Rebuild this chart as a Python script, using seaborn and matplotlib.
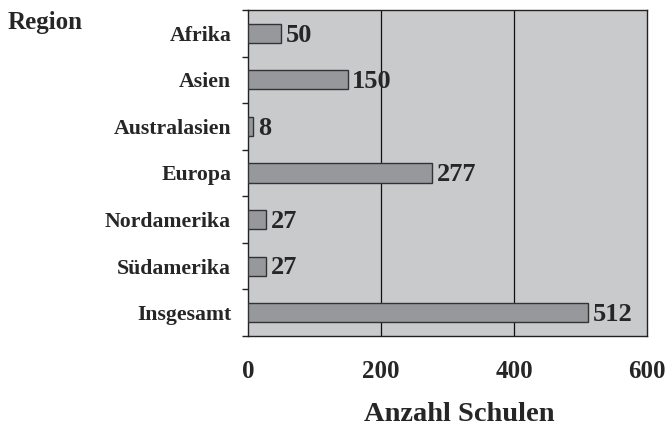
import pandas as pd
import matplotlib
matplotlib.use("Agg")
import matplotlib.pyplot as plt
import seaborn as sns

# Data

regions = ["Afrika", "Asien", "Australasien", "Europa",
           "Nordamerika", "Südamerika", "Insgesamt"]
schulen = [50, 150, 8, 277, 27, 27, 512]

df = pd.DataFrame({"Region": regions, "Schulen": schulen})

sns.set_style("white")
plt.rcParams['font.family'] = ['Liberation Serif', 'DejaVu Serif']
plt.rcParams['font.weight'] = 'bold'

fig = plt.figure(figsize=(6.68, 4.26), dpi=100)
ax = fig.add_axes([0.371, 0.2113, 0.5976, 0.7652])
ax.set_facecolor("#c9cacc")

sns.barplot(data=df, y="Region", x="Schulen", orient="h",
            color="#97989c", edgecolor="#333333", linewidth=1.0,
            width=0.41, saturation=1, ax=ax, zorder=3)

# Value labels
for i, v in enumerate(schulen):
    ax.text(v + 7, i + 0.04, str(v), va="center", ha="left",
            fontsize=19, fontweight="bold", zorder=4)

ax.set_xlim(0, 600)
ax.set_ylim(6.5, -0.5)
ax.set_xticks([0, 200, 400, 600])
ax.set_xticklabels(["0", "200", "400", "600"], fontsize=18, fontweight="bold")
ax.tick_params(axis="x", length=5, width=1, pad=12, color="#222222")

# Category ticks at boundaries, labels in between
ax.set_yticks([i - 0.5 for i in range(8)], minor=False)
ax.set_yticklabels([""] * 8)
ax.set_yticks(range(len(regions)), minor=True)
ax.set_yticklabels(regions, minor=True, fontsize=15.7, fontweight="bold")
ax.tick_params(axis="y", which="major", left=True, length=4, width=1, color="#222222")
ax.tick_params(axis="y", which="minor", left=False, length=0, pad=12)

for x in [200, 400]:
    ax.axvline(x, color="#111111", linewidth=0.9, zorder=1)

for side in ["left", "bottom", "top", "right"]:
    ax.spines[side].set_visible(True)
    ax.spines[side].set_color("#222222")
    ax.spines[side].set_linewidth(1.0)

ax.set_xlabel("Anzahl Schulen", fontsize=20.5, fontweight="bold", labelpad=14)
ax.xaxis.label.set_x(0.53)
ax.set_ylabel("")
fig.text(0.012, 0.948, "Region", fontsize=18, fontweight="bold", ha="left", va="center")

plt.savefig("out.png", dpi=100)
